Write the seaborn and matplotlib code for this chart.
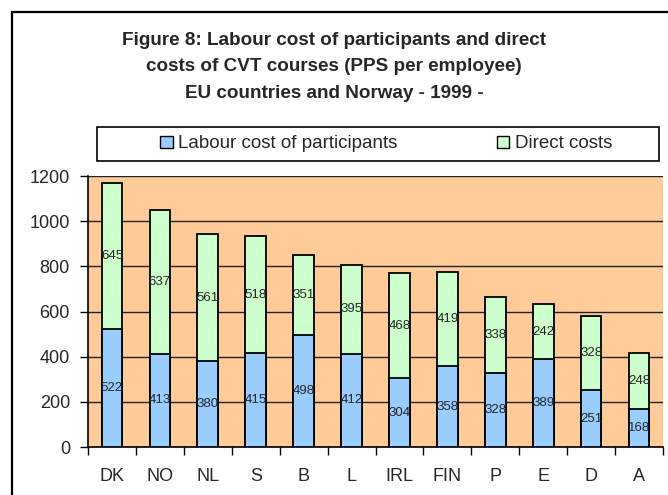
import numpy as np
import pandas as pd
import seaborn as sns
import matplotlib.pyplot as plt
from matplotlib.patches import Rectangle, Patch

# data
countries = ["DK", "NO", "NL", "S", "B", "L", "IRL", "FIN", "P", "E", "D", "A"]
labour_cost = [522, 413, 380, 415, 498, 412, 304, 358, 328, 389, 251, 168]
direct_costs = [645, 637, 561, 518, 351, 395, 468, 419, 338, 242, 328, 248]
y_ticks = [0, 200, 400, 600, 800, 1000, 1200]

df = pd.DataFrame({"country": countries, "labour": labour_cost, "direct": direct_costs})
df["total"] = df["labour"] + df["direct"]

sns.set_style("white")
plt.rcParams["font.family"] = ["Liberation Sans", "DejaVu Sans"]

fig = plt.figure(figsize=(6.68, 4.95), dpi=100)
fig.patch.set_facecolor("white")

# outer frame of the scanned figure
fig.patches.append(Rectangle((12 / 668, -0.1), 1.2, 1 - 12 / 495 + 0.1,
                             transform=fig.transFigure, fill=False,
                             edgecolor="black", linewidth=1.6))

ax = fig.add_axes([88 / 668, 1 - 447 / 495, (663 - 88) / 668, (447 - 176) / 495])
ax.set_facecolor("#FFCC99")

# stacked bars: total (green) first, labour (blue) on top of it
sns.barplot(data=df, x="country", y="total", color="#CCFFCC", saturation=1,
            width=0.43, edgecolor="black", linewidth=1.3, ax=ax, zorder=3)
sns.barplot(data=df, x="country", y="labour", color="#99CCFF", saturation=1,
            width=0.43, edgecolor="black", linewidth=1.3, ax=ax, zorder=4)

# value labels in the middle of each segment
for i, row in df.iterrows():
    ax.text(i, row["labour"] / 2, str(row["labour"]), ha="center", va="center",
            fontsize=9.5, zorder=5)
    ax.text(i, row["labour"] + row["direct"] / 2, str(row["direct"]), ha="center",
            va="center", fontsize=9.5, zorder=5)

ax.set_ylim(0, 1200)
ax.set_xlim(-0.5, len(countries) - 0.5)
ax.set_yticks(y_ticks)
ax.yaxis.grid(True, color="#222222", linewidth=1)
ax.set_axisbelow(True)
ax.set_xlabel("")
ax.set_ylabel("")

for side in ["top", "right"]:
    ax.spines[side].set_visible(False)
for side in ["left", "bottom"]:
    ax.spines[side].set_color("black")
    ax.spines[side].set_linewidth(1.2)

ax.tick_params(axis="y", length=6, width=1, color="black", labelsize=13, pad=7,
               direction="out", left=True)
ax.set_xticks(np.arange(len(countries) + 1) - 0.5, minor=True)
ax.tick_params(axis="x", which="minor", length=6, width=1, color="black",
               direction="out", bottom=True)
ax.tick_params(axis="x", which="major", length=0, labelsize=13, pad=15)

# title
title_lines = ["Figure 8: Labour cost of participants and direct",
               "costs of CVT courses (PPS per employee)",
               "EU countries and Norway - 1999 -"]
for line, base in zip(title_lines, [45, 71.5, 98]):
    fig.text(0.5, 1 - base / 495, line, ha="center", va="baseline",
             fontsize=13.6, fontweight="bold")

# legend box
fig.patches.append(Rectangle((97 / 668, 1 - 161 / 495), (659 - 97) / 668, 34 / 495,
                             transform=fig.transFigure, fill=False,
                             edgecolor="black", linewidth=1.2))
handles = [Patch(facecolor="#99CCFF", edgecolor="black", label="Labour cost of participants"),
           Patch(facecolor="#CCFFCC", edgecolor="black", label="Direct costs")]
fig.legend(handles=handles, loc="center left", ncol=2, frameon=False,
           bbox_to_anchor=(151 / 668, 1 - 144 / 495), fontsize=13.5,
           handlelength=0.65, handleheight=0.65, handletextpad=0.3,
           columnspacing=5.3, borderpad=0)

fig.savefig("out.png", dpi=100)
